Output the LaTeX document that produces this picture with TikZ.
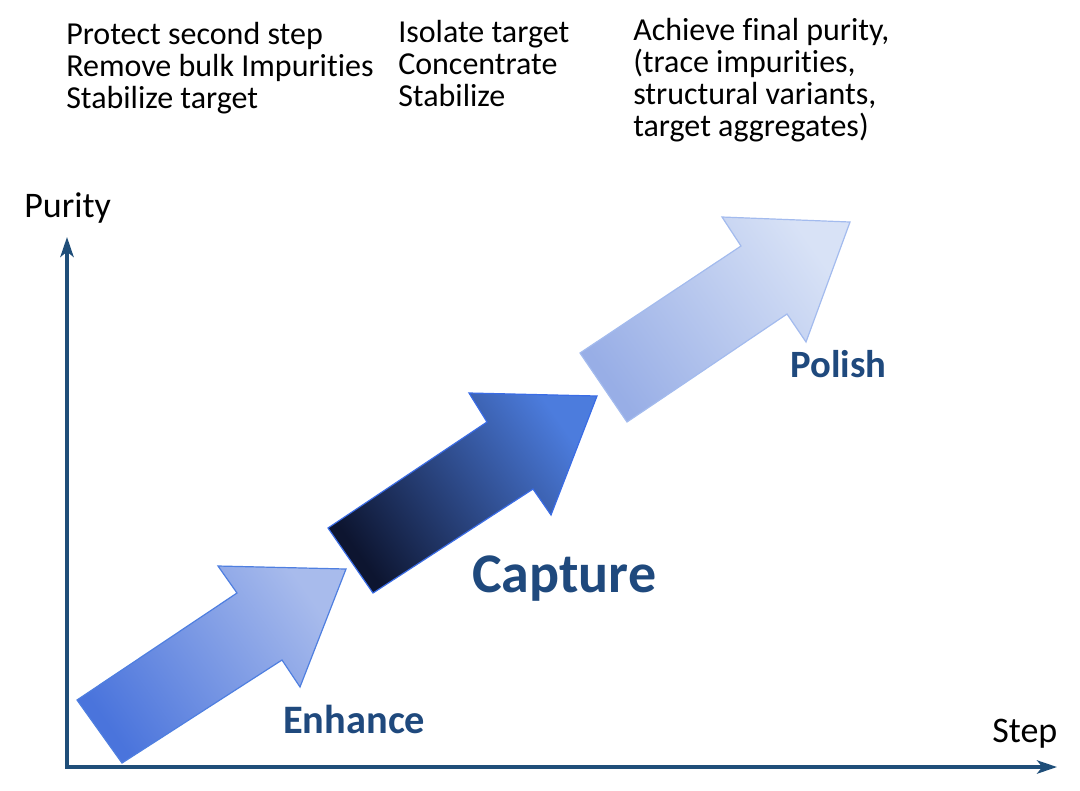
\documentclass[tikz,border=0pt]{standalone}
\usepackage{fontspec}
\setmainfont{Carlito}[Ligatures=NoCommon]
\usetikzlibrary{arrows.meta}
\definecolor{axisblue}{HTML}{1F4E79}
\definecolor{lblue}{HTML}{1F497D}
\definecolor{aOneDark}{HTML}{4A74DC}
\definecolor{aOneLight}{HTML}{A8BBEC}
\definecolor{aOneBorder}{HTML}{4F7FE0}
\definecolor{aTwoDark}{HTML}{0D1530}
\definecolor{aTwoLight}{HTML}{4C7CDD}
\definecolor{aTwoBorder}{HTML}{3A6CE5}
\definecolor{aThreeDark}{HTML}{98AEE6}
\definecolor{aThreeLight}{HTML}{D8E2F6}
\definecolor{aThreeBorder}{HTML}{A3BBEE}
\begin{document}
\begin{tikzpicture}[x=0.75pt,y=0.75pt,
  note/.style={anchor=base west, align=left, inner sep=0pt, font=\fontsize{24}{23.8}\selectfont},
  phase/.style={anchor=base west, text=lblue, inner sep=0pt},
  axlabel/.style={anchor=base west, inner sep=0pt, font=\fontsize{27}{32}\selectfont},
  bigarrow/.style={line width=0.9pt, line join=miter}]
\useasboundingbox (0,0) rectangle (1080,-790);

% axes
\coordinate (origin) at (67,-767);
\coordinate (ytip) at (67,-237);
\coordinate (xtip) at (1057,-767);
\draw[axisblue, line width=2.6pt, line join=miter,
  {Stealth[length=15pt,width=10pt,inset=4pt]}-{Stealth[length=15pt,width=10pt,inset=4pt]}]
  (ytip) -- (origin) -- (xtip);

% arrows
\shade[bigarrow, draw=aOneBorder, bottom color=aOneDark, top color=aOneLight, shading angle=-55]
  (77,-700) -- (237,-593) -- (218,-566) -- (346,-569) -- (300,-687) -- (282,-660) -- (122,-763) -- cycle;
\shade[bigarrow, draw=aTwoBorder, bottom color=aTwoDark, top color=aTwoLight, shading angle=-55]
  (328,-528) -- (487,-422) -- (469,-393) -- (597,-396) -- (551,-515) -- (533,-489) -- (373,-593) -- cycle;
\shade[bigarrow, draw=aThreeBorder, bottom color=aThreeDark, top color=aThreeLight, shading angle=-55]
  (580,-353) -- (741,-246) -- (722,-217) -- (850,-222) -- (806,-342) -- (787,-314) -- (627,-422) -- cycle;

% labels
\node[phase, font=\bfseries\fontsize{30.3}{36}\selectfont] (enhance) at (283,-733) {Enhance};
\node[phase, font=\bfseries\fontsize{42}{48}\selectfont] (capture) at (472,-592) {Capture};
\node[phase, font=\bfseries\fontsize{29}{36}\selectfont] (polish) at (790,-377) {Polish};

\node[axlabel] (purity) at (24,-217) {Purity};
\node[axlabel] (step) at (992,-742) {Step};

\node[note] (n1) at (66,-108) {Protect second step\\Remove bulk Impurities\\Stabilize target};
\node[note] (n2) at (398,-106) {Isolate target\\Concentrate\\Stabilize};
\node[note] (n3) at (633,-136) {Achieve final purity,\\(trace impurities,\\structural variants,\\target aggregates)};
\end{tikzpicture}
\end{document}
